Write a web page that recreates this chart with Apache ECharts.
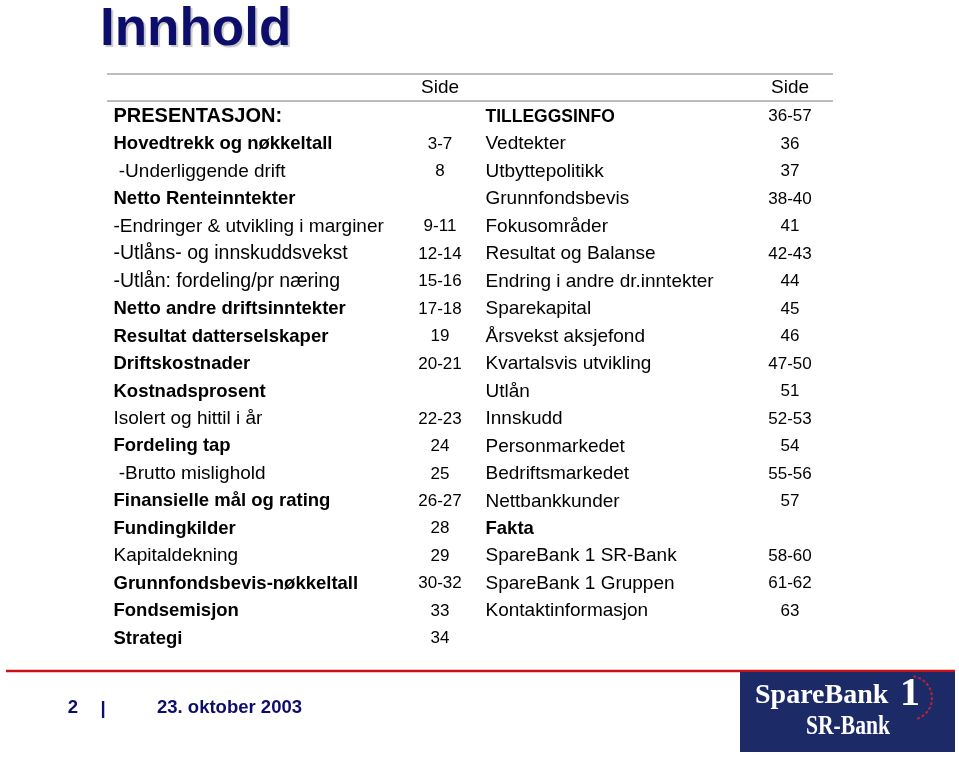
<!DOCTYPE html>
<html><head><meta charset="utf-8">
<script src="https://cdn.jsdelivr.net/npm/echarts@6/dist/echarts.min.js"></script>
<style>html,body{margin:0;padding:0;background:#fff}#c{width:959px;height:757px}</style>
</head><body><div id="c"></div>
<script>
// ---- data ----
const slideTitle = 'Innhold';
const pageHeader = 'Side';
const leftTitles = [
  'PRESENTASJON:', 'Hovedtrekk og nøkkeltall', ' -Underliggende drift', 'Netto Renteinntekter',
  '-Endringer & utvikling i marginer', '-Utlåns- og innskuddsvekst', '-Utlån: fordeling/pr næring',
  'Netto andre driftsinntekter', 'Resultat datterselskaper', 'Driftskostnader', 'Kostnadsprosent',
  'Isolert og hittil i år', 'Fordeling tap', ' -Brutto mislighold', 'Finansielle mål og rating',
  'Fundingkilder', 'Kapitaldekning', 'Grunnfondsbevis-nøkkeltall', 'Fondsemisjon', 'Strategi'
];
const leftPages = [
  '', '3-7', '8', '', '9-11', '12-14', '15-16', '17-18', '19', '20-21', '',
  '22-23', '24', '25', '26-27', '28', '29', '30-32', '33', '34'
];
// text style class per row: 0 regular, 1 bold, 2 bold section, 3 condensed section, 4 regular wide
const leftKind = [2,1,0,1,0,4,4,1,1,1,1,0,1,0,1,1,0,1,1,1];
const rightTitles = [
  'TILLEGGSINFO', 'Vedtekter', 'Utbyttepolitikk', 'Grunnfondsbevis', 'Fokusområder',
  'Resultat og Balanse', 'Endring i andre dr.inntekter', 'Sparekapital', 'Årsvekst aksjefond',
  'Kvartalsvis utvikling', 'Utlån', 'Innskudd', 'Personmarkedet', 'Bedriftsmarkedet',
  'Nettbankkunder', 'Fakta', 'SpareBank 1 SR-Bank', 'SpareBank 1 Gruppen', 'Kontaktinformasjon'
];
const rightPages = [
  '36-57', '36', '37', '38-40', '41', '42-43', '44', '45', '46', '47-50', '51',
  '52-53', '54', '55-56', '57', '', '58-60', '61-62', '63'
];
const rightKind = [3,0,0,0,0,0,0,0,0,0,0,0,0,0,0,1,0,0,0];
const footerPage = '2';
const footerDate = '23. oktober 2003';
const logoLine1 = 'SpareBank';
const logoNum = '1';
const logoLine2 = 'SR-Bank';

// ---- layout / styles ----
const FONT = '"Liberation Sans", Arial, sans-serif';
const SERIF = '"Liberation Serif", "Times New Roman", serif';
const NAVY = '#0d0d6b';
const INK = '#000';
const COL = { lt: 113, lp: 440, rt: 485, rp: 790 };
const rows = leftTitles.map((_, i) => i);

function kindStyle(k) {
  const base = { color: INK, opacity: 1, fontFamily: FONT, fontWeight: 'normal', fontSize: 19 };
  if (k === 1) return Object.assign(base, { fontWeight: 'bold', fontSize: 18.5 });
  if (k === 2) return Object.assign(base, { fontWeight: 'bold', fontSize: 20 });
  if (k === 3) return Object.assign(base, { fontWeight: 'bold', fontSize: 17.5 });
  if (k === 4) return Object.assign(base, { fontSize: 19.5 });
  return base;
}

function textSeries(titles, kinds, x, align) {
  const data = [];
  titles.forEach((t, i) => {
    if (!t) return;
    const st = kinds ? kindStyle(kinds[i]) : { color: INK, opacity: 1, fontFamily: FONT, fontWeight: 'normal', fontSize: 17 };
    data.push({ value: [x, i, t], label: st });
  });
  return {
    type: 'scatter', symbolSize: 1, itemStyle: { color: 'rgba(0,0,0,0)', opacity: 1 },
    silent: true, data: data,
    label: {
      show: true, formatter: p => p.value[2], color: INK, opacity: 1, fontFamily: FONT,
      position: align === 'left' ? 'right' : 'inside', distance: 0,
      align: align === 'left' ? 'left' : 'center', verticalAlign: 'middle'
    }
  };
}

const chart = echarts.init(document.getElementById('c'), null, { renderer: 'canvas' });
chart.setOption({
  animation: false,
  backgroundColor: '#fff',
  grid: { left: 0, right: 0, top: 103, height: 549.4 },
  xAxis: { type: 'value', min: 0, max: 959, show: false },
  yAxis: { type: 'category', data: rows, inverse: true, show: false, boundaryGap: true },
  series: [
    textSeries(leftTitles, leftKind, COL.lt, 'left'),
    textSeries(leftPages, null, COL.lp, 'center'),
    textSeries(rightTitles, rightKind, COL.rt, 'left'),
    textSeries(rightPages, null, COL.rp, 'center')
  ],
  graphic: [
    { type: 'text', left: 100, top: 4, style: { text: slideTitle, font: 'bold 53px ' + FONT, fill: NAVY,
      textShadowColor: 'rgba(0,0,0,0.22)', textShadowOffsetX: 2, textShadowOffsetY: 2, textShadowBlur: 1 } },
    { type: 'line', shape: { x1: 107, y1: 74, x2: 833, y2: 74 }, style: { stroke: '#bdbdbd', lineWidth: 2 } },
    { type: 'line', shape: { x1: 107, y1: 101, x2: 833, y2: 101 }, style: { stroke: '#bdbdbd', lineWidth: 2 } },
    { type: 'text', x: COL.lp, y: 88, style: { text: pageHeader, font: '19px ' + FONT, fill: INK, textAlign: 'center', textVerticalAlign: 'middle' } },
    { type: 'text', x: COL.rp, y: 88, style: { text: pageHeader, font: '19px ' + FONT, fill: INK, textAlign: 'center', textVerticalAlign: 'middle' } },
    { type: 'line', shape: { x1: 6, y1: 671, x2: 955, y2: 671 }, style: { stroke: '#cc1018', lineWidth: 2.5 } },
    { type: 'text', x: 73, y: 708, style: { text: footerPage, font: 'bold 18.5px ' + FONT, fill: NAVY, textAlign: 'center', textVerticalAlign: 'middle' } },
    { type: 'text', x: 103, y: 709, style: { text: '|', font: 'bold 18.5px ' + FONT, fill: NAVY, textAlign: 'center', textVerticalAlign: 'middle' } },
    { type: 'text', x: 157, y: 708, style: { text: footerDate, font: 'bold 18.5px ' + FONT, fill: NAVY, textAlign: 'left', textVerticalAlign: 'middle' } },
    { type: 'rect', shape: { x: 740, y: 672, width: 215, height: 80 }, style: { fill: '#1c2a68' } },
    { type: 'text', x: 755, y: 696, style: { text: logoLine1, font: 'bold 28px ' + SERIF, fill: '#fff', textAlign: 'left', textVerticalAlign: 'middle' } },
    { type: 'text', x: 910, y: 695, style: { text: logoNum, font: 'bold 40px ' + SERIF, fill: '#fff', textAlign: 'center', textVerticalAlign: 'middle' } },
    { type: 'arc', shape: { cx: 910, cy: 698, r: 22, startAngle: -Math.PI * 0.45, endAngle: Math.PI * 0.4 },
      style: { stroke: '#b8243a', lineWidth: 2, lineDash: [3, 2], fill: null } },
    { type: 'text', x: 848, y: 727, scaleX: 0.8,
      style: { text: logoLine2, font: 'bold 27px ' + SERIF, fill: '#fff', textAlign: 'center', textVerticalAlign: 'middle' } }
  ]
});
</script>
</body></html>
